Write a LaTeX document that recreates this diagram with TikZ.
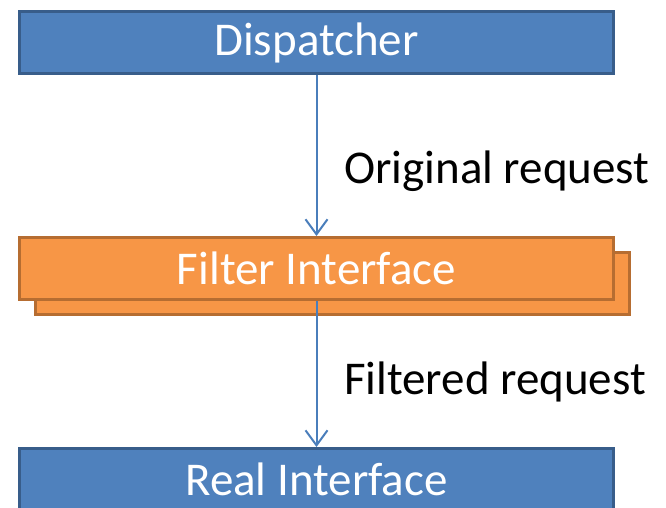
\documentclass[tikz,border=0pt]{standalone}
\usepackage{fontspec}
\setmainfont{Carlito}
\usetikzlibrary{arrows.meta}
\definecolor{bfill}{HTML}{4F81BD}
\definecolor{bdraw}{HTML}{385D8A}
\definecolor{ofill}{HTML}{F79646}
\definecolor{odraw}{HTML}{B66D31}
\definecolor{arr}{HTML}{4A7EBB}
\tikzset{
  bluebox/.style={draw=bdraw, fill=bfill, line width=3pt, minimum width=594pt, minimum height=62pt, inner sep=0pt, text=white, font=\fontsize{47}{50}\selectfont, anchor=north west},
  orangebox/.style={draw=odraw, fill=ofill, line width=3pt, minimum width=594pt, minimum height=62pt, inner sep=0pt, text=white, font=\fontsize{47}{50}\selectfont, anchor=north west},
  conn/.style={draw=arr, line width=2pt, -{Straight Barb[length=15pt,width=22pt,line width=2pt]}},
  lbl/.style={anchor=west, inner sep=0pt, font=\fontsize{47}{50}\selectfont}
}
\begin{document}
\begin{tikzpicture}[x=1pt,y=-1pt]
\useasboundingbox (0,0) rectangle (666,508);
\clip (0,0) rectangle (666,508);
\node[bluebox] (disp) at (18,10) {Dispatcher};
\node[orangebox] (fback) at (34,251) {};
\node[orangebox] (filt) at (18,236) {Filter Interface};
\node[bluebox] (real) at (18,447) {Real Interface};
\draw[conn] (disp.south) -- (filt.north);
\draw[conn] (filt.south) -- (real.north);
\node[lbl] (l1) at (344,171) {Original request};
\node[lbl] (l2) at (344,382) {Filtered request};
\end{tikzpicture}
\end{document}
